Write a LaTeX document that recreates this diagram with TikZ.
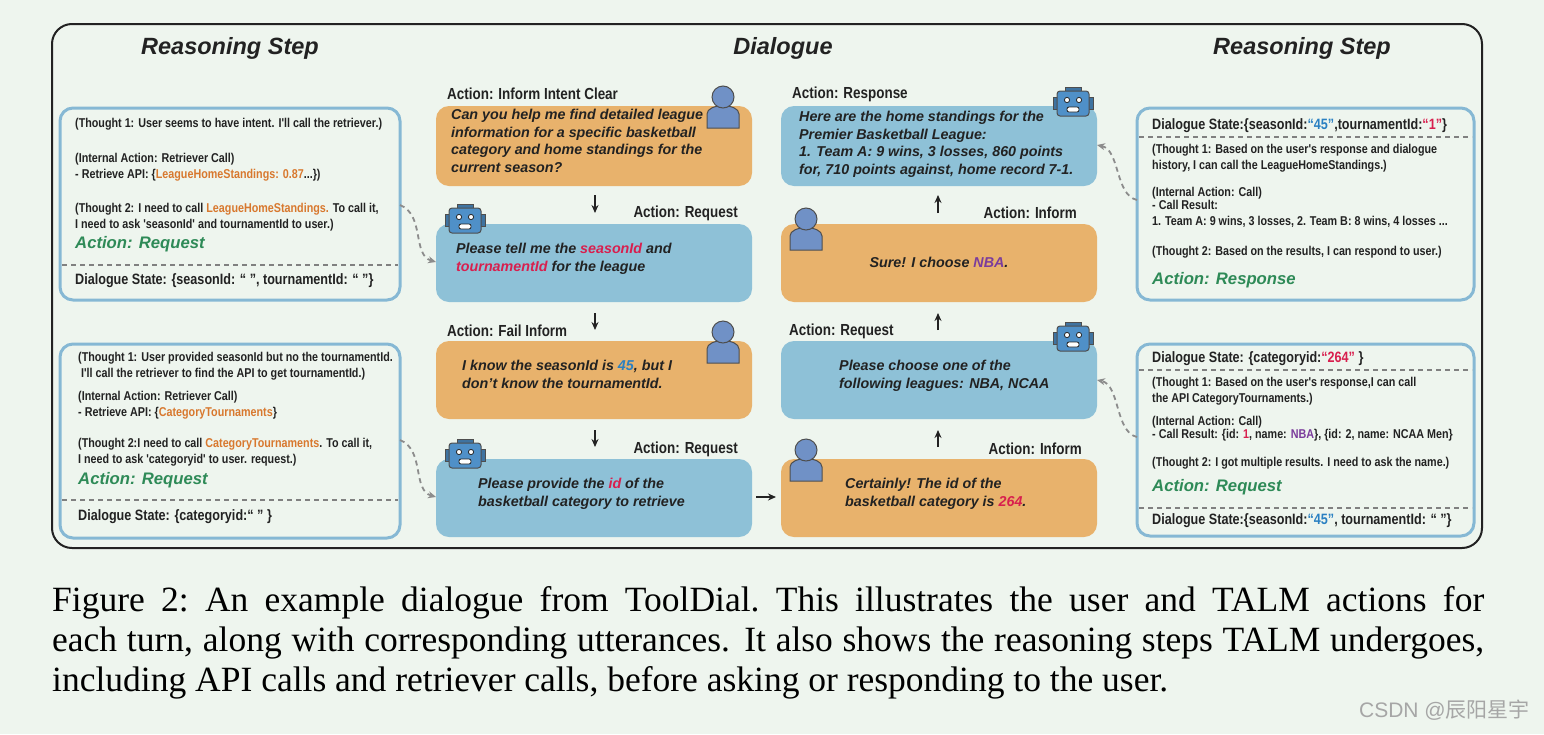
\documentclass[tikz,border=0pt]{standalone}
\usepackage{fontspec}
\setmainfont{Liberation Sans}
\newfontfamily\nar{Liberation Sans}[FakeStretch=0.84]
\newfontfamily\ser{Liberation Serif}
\newfontfamily\cjk{Noto Sans CJK SC}
\usetikzlibrary{arrows.meta}
\definecolor{bg}{HTML}{EEF5EE}
\definecolor{pbord}{HTML}{86B8D4}
\definecolor{ubox}{HTML}{E8B26C}
\definecolor{rbox}{HTML}{8EC1D7}
\definecolor{grn}{HTML}{2E8A57}
\definecolor{org}{HTML}{D8782E}
\definecolor{red}{HTML}{D81F4E}
\definecolor{blu}{HTML}{2A80C2}
\definecolor{pur}{HTML}{7B3C9C}
\definecolor{ink}{HTML}{222222}
\definecolor{ucol}{HTML}{7091C6}
\definecolor{rcol}{HTML}{4F90C8}
\begin{document}
\begin{tikzpicture}[x=1pt,y=-1pt,
  panel/.style={draw=pbord,line width=3pt,rounded corners=13pt,fill=bg},
  ubub/.style={fill=ubox,rounded corners=13pt},
  rbub/.style={fill=rbox,rounded corners=13pt},
  ptext/.style={anchor=north west,inner sep=0,align=left,font=\nar\bfseries\fontsize{12.8}{16}\selectfont,text=ink},
  stext/.style={ptext,font=\nar\bfseries\fontsize{15}{17}\selectfont},
  dtext/.style={anchor=north west,inner sep=0,align=left,font=\bfseries\itshape\fontsize{14.3}{17.6}\selectfont,text=ink},
  lab/.style={inner sep=0,font=\nar\bfseries\fontsize{16}{18}\selectfont,text=ink},
  act/.style={anchor=north west,inner sep=0,font=\bfseries\itshape\fontsize{16.7}{19}\selectfont,text=grn},
  head/.style={inner sep=0,font=\bfseries\itshape\fontsize{23.5}{26}\selectfont,text=ink},
  sep/.style={draw=gray,line width=1.6pt,dash pattern=on 5pt off 4pt},
  flow/.style={-{Stealth[length=8pt,width=7pt]},line width=1.5pt,ink},
  link/.style={draw=gray!90,line width=1.8pt,dash pattern=on 5pt off 4pt,-{Stealth[length=8pt,width=7pt]}},
  user/.pic={\fill[ucol,draw=ink!80,line width=1pt] (-16,24) -- (-16,10) .. controls (-16,-1) and (16,-1) .. (16,10) -- (16,24) -- cycle;
             \fill[ucol,draw=ink!80,line width=1pt] (0,-7) circle (11);},
  robot/.pic={\fill[rcol!80!black,draw=ink!80,line width=1pt] (-8,-16) rectangle (8,-12);
              \fill[rcol!80!black,draw=ink!80,line width=1pt] (-20,-6) rectangle (20,6);
              \fill[rcol,draw=ink!80,line width=1pt,rounded corners=3pt] (-16,-12) rectangle (16,13);
              \fill[white,draw=ink,line width=.8pt] (-6,-3) circle (2.6) (6,-3) circle (2.6);
              \fill[white,draw=ink,line width=.8pt,rounded corners=2pt] (-6,4) rectangle (6,9);}
]
\useasboundingbox (0,0) rectangle (1544,734);
\fill[bg] (0,0) rectangle (1544,734);
\draw[ink,line width=2pt,rounded corners=20pt] (52,24) rectangle (1482,548);
\node[head] (h1) at (230,48) {Reasoning Step};
\node[head] (h2) at (783,48) {Dialogue};
\node[head] (h3) at (1302,48) {Reasoning Step};

% left panels
\draw[panel] (60,108) rectangle (400,300);
\coordinate (lp1) at (400,205);
\node[ptext] (l1a) at (75,118) {(Thought 1: User seems to have intent. I'll call the retriever.)};
\node[ptext] (l1b) at (75,153) {(Internal Action: Retriever Call)\\- Retrieve API: \{\textcolor{org}{LeagueHomeStandings: 0.87}...\})};
\node[ptext] (l1c) at (75,203) {(Thought 2: I need to call \textcolor{org}{LeagueHomeStandings.} To call it,\\I need to ask 'seasonId' and tournamentId to user.)};
\node[act] (l1d) at (75,236) {Action: Request};
\draw[sep] (62,265) -- (398,265);
\node[stext] (l1e) at (75,273) {Dialogue State: \{seasonId: “ ”, tournamentId: “ ”\}};

\draw[panel] (60,344) rectangle (400,538);
\coordinate (lp2) at (400,440);
\node[ptext] (l2a) at (78,352) {(Thought 1: User provided seasonId but no the tournamentId.\\\ I'll call the retriever to find the API to get tournamentId.)};
\node[ptext] (l2b) at (78,391) {(Internal Action: Retriever Call)\\- Retrieve API: \{\textcolor{org}{CategoryTournaments}\}};
\node[ptext] (l2c) at (78,438) {(Thought 2:I need to call \textcolor{org}{CategoryTournaments}. To call it,\\I need to ask 'categoryid' to user. request.)};
\node[act] (l2d) at (78,472) {Action: Request};
\draw[sep] (62,500) -- (398,500);
\node[stext] (l2e) at (78,509) {Dialogue State: \{categoryid:“ ” \}};

% right panels
\draw[panel] (1137,108) rectangle (1474,300);
\coordinate (rp1) at (1137,200);
\node[stext] (r1a) at (1152,118) {Dialogue State:\{seasonId:\textcolor{blu}{“45”},tournamentId:\textcolor{red}{“1”}\}};
\draw[sep] (1139,137) -- (1472,137);
\node[ptext] (r1b) at (1152,144) {(Thought 1: Based on the user's response and dialogue\\history, I can call the LeagueHomeStandings.)};
\node[ptext] (r1c) at (1152,187) {(Internal Action: Call)\\[-3pt]- Call Result:\\1. Team A: 9 wins, 3 losses, 2. Team B: 8 wins, 4 losses ...};
\node[ptext] (r1d) at (1152,246) {(Thought 2: Based on the results, I can respond to user.)};
\node[act] (r1e) at (1152,272) {Action: Response};

\draw[panel] (1137,344) rectangle (1474,536);
\coordinate (rp2) at (1137,437);
\node[stext] (r2a) at (1152,351) {Dialogue State: \{categoryid:\textcolor{red}{“264”} \}};
\draw[sep] (1139,370) -- (1472,370);
\node[ptext] (r2b) at (1152,377) {(Thought 1: Based on the user's response,I can call\\the API CategoryTournaments.)};
\node[ptext] (r2c) at (1152,416) {(Internal Action: Call)\\[-3pt]- Call Result: \{id: \textcolor{red}{1}, name: \textcolor{pur}{NBA}\}, \{id: 2, name: NCAA Men\}};
\node[ptext] (r2d) at (1152,457) {(Thought 2: I got multiple results. I need to ask the name.)};
\node[act] (r2e) at (1152,479) {Action: Request};
\draw[sep] (1139,508) -- (1472,508);
\node[stext] (r2f) at (1152,513) {Dialogue State:\{seasonId:\textcolor{blu}{“45”}, tournamentId: “ ”\}};

% dialogue column 1
\node[lab,anchor=west] (a1) at (447,94) {Action: Inform Intent Clear};
\path[ubub] (436,106) rectangle (752,186); \coordinate (b1s) at (595,195);
\node[dtext] (b1) at (451,109) {Can you help me find detailed league\\information for a specific basketball\\category and home standings for the\\current season?};
\pic at (723,104) {user};
\coordinate (b2n) at (595,213);
\draw[flow] (b1s) -- (b2n);
\node[lab,anchor=east] (a2) at (738,213) {Action: Request};
\path[rbub] (436,224) rectangle (752,302); \coordinate (b2l) at (436,262);
\node[dtext] (b2) at (456,243) {Please tell me the \textcolor{red}{seasonId} and\\\textcolor{red}{tournamentId} for the league};
\pic at (465,220) {robot};
\coordinate (b2s) at (595,313); \coordinate (b3n) at (595,330);
\draw[flow] (b2s) -- (b3n);
\node[lab,anchor=west] (a3) at (447,331) {Action: Fail Inform};
\path[ubub] (436,341) rectangle (752,419);
\node[dtext] (b3) at (462,360) {I know the seasonId is \textcolor{blu}{45}, but I\\don't know the tournamentId.};
\pic at (723,339) {user};
\coordinate (b3s) at (595,430); \coordinate (b4n) at (595,447);
\draw[flow] (b3s) -- (b4n);
\node[lab,anchor=east] (a4) at (738,449) {Action: Request};
\path[rbub] (436,459) rectangle (752,537); \coordinate (b4l) at (436,497);
\node[dtext] (b4) at (478,478) {Please provide the \textcolor{red}{id} of the\\basketball category to retrieve};
\pic at (465,455) {robot};
\coordinate (b4r) at (756,497); \coordinate (b5l) at (776,497);
\draw[flow] (b4r) -- (b5l);

% dialogue column 2
\node[lab,anchor=east] (a5) at (1082,449) {Action: Inform};
\path[ubub] (781,459) rectangle (1097,537);
\node[dtext] (b5) at (845,478) {Certainly! The id of the\\basketball category is \textcolor{red}{264}.};
\pic at (806,457) {user};
\coordinate (b5n) at (938,447); \coordinate (b6s) at (938,430);
\draw[flow] (b5n) -- (b6s);
\node[lab,anchor=west] (a6) at (789,331) {Action: Request};
\path[rbub] (781,341) rectangle (1097,419); \coordinate (b6r) at (1097,380);
\node[dtext] (b6) at (839,360) {Please choose one of the\\following leagues: NBA, NCAA};
\pic at (1073,338) {robot};
\coordinate (b6n) at (938,330); \coordinate (b7s) at (938,313);
\draw[flow] (b6n) -- (b7s);
\node[lab,anchor=east] (a7) at (1077,213) {Action: Inform};
\path[ubub] (781,224) rectangle (1097,302);
\node[dtext,anchor=center] (b7) at (939,262) {Sure! I choose \textcolor{pur}{NBA}.};
\pic at (806,226) {user};
\coordinate (b7n) at (938,213); \coordinate (b8s) at (938,195);
\draw[flow] (b7n) -- (b8s);
\node[lab,anchor=west] (a8) at (792,94) {Action: Response};
\path[rbub] (781,106) rectangle (1097,186); \coordinate (b8r) at (1097,145);
\node[dtext] (b8) at (799,111) {Here are the home standings for the\\Premier Basketball League:\\1. Team A: 9 wins, 3 losses, 860 points\\for, 710 points against, home record 7-1.};
\pic at (1073,103) {robot};

% dashed links
\draw[link] (lp1) .. controls (425,215) and (412,255) .. (b2l);
\draw[link] (lp2) .. controls (425,450) and (412,490) .. (b4l);
\draw[link] (rp1) .. controls (1115,195) and (1120,150) .. (b8r);
\draw[link] (rp2) .. controls (1115,432) and (1120,385) .. (b6r);

% caption
\node[anchor=north west,inner sep=0,text width=1432pt,align=justify,font=\ser\fontsize{35.5}{40}\selectfont,text=black] (cap) at (52,586)
{Figure 2:\ An example dialogue from ToolDial.\ This illustrates the user and TALM actions for\linebreak each turn, along with corresponding utterances. It also shows the reasoning steps TALM undergoes,\linebreak including API calls and retriever calls, before asking or responding to the user.};
\node[anchor=east,inner sep=0,font=\fontsize{21}{24}\selectfont,text=gray!70] (wm) at (1530,710) {CSDN @{\cjk 辰阳星宇}};
\end{tikzpicture}
\end{document}
